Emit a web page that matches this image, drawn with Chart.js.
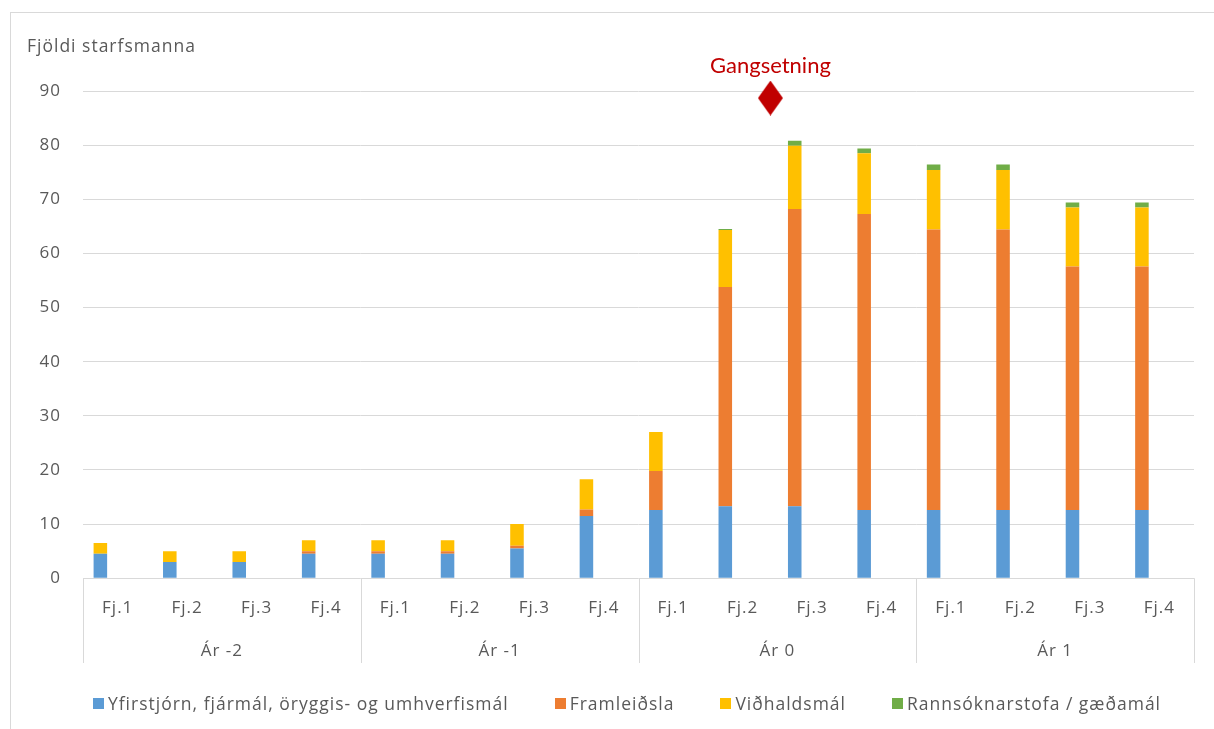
<!DOCTYPE html>
<html>
<head>
<meta charset="utf-8">
<script src="https://cdn.jsdelivr.net/npm/chart.js@4"></script>
<style>
  html, body { margin: 0; padding: 0; background: #fff; overflow: hidden; }
  #frame { position: absolute; left: 10px; top: 12px; width: 1300px; height: 800px; border: 1px solid #d9d9d9; }
  #wrap { position: absolute; left: 0; top: 0; width: 1214px; height: 729px; }
  #legend { position: absolute; left: 40px; top: 691px; width: 1174px; display: flex; justify-content: center; gap: 46px;
            font: 17.5px 'Open Sans', sans-serif; letter-spacing: 1px; color: #595959; }
  #legend span.item { display: flex; align-items: center; }
  #legend span.box { width: 11px; height: 11px; margin-right: 4px; display: inline-block; }
</style>
</head>
<body>
<div id="frame"></div>
<div id="wrap"><canvas id="chart"></canvas></div>
<div id="legend"></div>
<script>
// Categories
let quarters = ['Fj.1', 'Fj.2', 'Fj.3', 'Fj.4',
                'Fj.1', 'Fj.2', 'Fj.3', 'Fj.4',
                'Fj.1', 'Fj.2', 'Fj.3', 'Fj.4',
                'Fj.1', 'Fj.2', 'Fj.3', 'Fj.4']
let years = ['Ár -2', 'Ár -1', 'Ár 0', 'Ár 1']

// Staff per department
let management  = [4.5, 3, 3, 4.5, 4.5, 4.5, 5.5, 11.5, 12.6, 13.3, 13.3, 12.6, 12.6, 12.6, 12.6, 12.6]
let production  = [0, 0, 0, 0.5, 0.5, 0.5, 0.5, 1.2, 7.2, 40.5, 54.9, 54.7, 51.8, 51.8, 45, 45]
let maintenance = [2, 2, 2, 2, 2, 2, 4, 5.6, 7.2, 10.5, 11.7, 11.2, 11, 11, 10.9, 10.9]
let laboratory  = [0, 0, 0, 0, 0, 0, 0, 0, 0, 0.2, 0.9, 0.9, 1, 1, 0.9, 0.9]

// Start-up marker
let startupX = [9.4]
let startupY = [88.7]
let startupLabel = 'Gangsetning'

let yTicks = { min: 0, max: 90, step: 10 }

const textColor = '#595959'
const gridColor = '#d9d9d9'
const red = '#c00000'

Chart.defaults.font.family = "'Open Sans', sans-serif"
Chart.defaults.font.size = 17
Chart.defaults.color = textColor

// Diamond shaped point for the marker
function diamond(w, h, color) {
    let c = document.createElement('canvas')
    c.width = w
    c.height = h
    let g = c.getContext('2d')
    g.fillStyle = color
    g.beginPath()
    g.moveTo(w / 2, 0)
    g.lineTo(w, h / 2)
    g.lineTo(w / 2, h)
    g.lineTo(0, h / 2)
    g.closePath()
    g.fill()
    return c
}

// Slightly spaced-out lettering, like the original
let spacing = {
    id: 'spacing',
    beforeUpdate(chart) { chart.ctx.letterSpacing = '1px' },
    beforeLayout(chart) { chart.ctx.letterSpacing = '1px' },
    beforeDraw(chart) { chart.ctx.letterSpacing = '1px' }
}

// Vertical separators between the year groups, through both label rows
let groupLines = {
    id: 'groupLines',
    afterDraw(chart) {
        let xs = chart.scales.x
        let bottom = chart.scales.x2.bottom
        let top = chart.chartArea.bottom
        let ctx = chart.ctx
        ctx.save()
        ctx.strokeStyle = gridColor
        ctx.lineWidth = 1
        for (let g = 0; g <= years.length; g++) {
            let x = Math.round(xs.getPixelForValue(g * 4 - 0.5)) + 0.5
            ctx.beginPath()
            ctx.moveTo(x, top)
            ctx.lineTo(x, bottom)
            ctx.stroke()
        }
        ctx.restore()
    }
}

// Text above the start-up marker
let markerLabel = {
    id: 'markerLabel',
    afterDatasetsDraw(chart) {
        let pt = chart.getDatasetMeta(4).data[0]
        let ctx = chart.ctx
        ctx.save()
        ctx.letterSpacing = '0px'
        ctx.font = '22px Lato, sans-serif'
        ctx.fillStyle = red
        ctx.textAlign = 'center'
        ctx.textBaseline = 'middle'
        ctx.fillText(startupLabel, pt.x, pt.y - 32)
        ctx.restore()
    }
}

let bar = (label, data, color) => ({
    type: 'bar', label, data, backgroundColor: color, borderWidth: 0,
    barPercentage: 0.39, categoryPercentage: 1, xAxisID: 'x'
})

let chart = new Chart(document.getElementById('chart'), {
    data: {
        labels: quarters,
        datasets: [
            bar('Yfirstjórn, fjármál, öryggis- og umhverfismál', management, '#5b9bd5'),
            bar('Framleiðsla', production, '#ed7d31'),
            bar('Viðhaldsmál', maintenance, '#ffc000'),
            bar('Rannsóknarstofa / gæðamál', laboratory, '#70ad47'),
            {
                type: 'scatter',
                label: startupLabel,
                data: startupX.map((x, i) => ({ x, y: startupY[i] })),
                xAxisID: 'xm',
                pointStyle: diamond(25, 35, red),
                clip: false
            }
        ]
    },
    options: {
        responsive: true,
        maintainAspectRatio: false,
        animation: false,
        layout: { padding: { left: 27, right: 20, top: 0, bottom: 66 } },
        plugins: {
            legend: { display: false },
            tooltip: { enabled: false },
            title: {
                display: true,
                text: 'Fjöldi starfsmanna',
                align: 'start',
                color: textColor,
                font: { size: 17.5, weight: 'normal' },
                padding: { top: 37, bottom: 33 }
            }
        },
        scales: {
            x: {
                stacked: true,
                grid: { display: false },
                border: { display: false },
                ticks: { padding: 12, maxRotation: 0, autoSkip: false }
            },
            x2: {
                type: 'category',
                labels: years,
                position: 'bottom',
                weight: 1,
                offset: true,
                grid: { display: false },
                border: { display: false },
                ticks: { padding: 2 }
            },
            xm: {
                type: 'linear',
                display: false,
                min: -0.5,
                max: quarters.length - 0.5
            },
            y: {
                stacked: true,
                min: yTicks.min,
                max: yTicks.max,
                ticks: { stepSize: yTicks.step, padding: 22 },
                grid: { color: gridColor, drawTicks: false },
                border: { display: false },
                afterFit(scale) { scale.width = 56 }
            }
        }
    },
    plugins: [spacing, groupLines, markerLabel]
})

// HTML legend built from the bar datasets
let legendEl = document.getElementById('legend')
chart.data.datasets.slice(0, 4).forEach((ds) => {
    let item = document.createElement('span')
    item.className = 'item'
    let box = document.createElement('span')
    box.className = 'box'
    box.style.background = ds.backgroundColor
    item.appendChild(box)
    item.appendChild(document.createTextNode(ds.label))
    legendEl.appendChild(item)
})
</script>
</body>
</html>
